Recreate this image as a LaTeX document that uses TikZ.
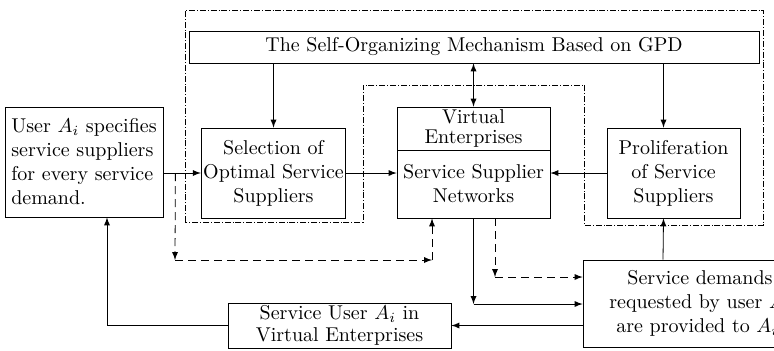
\documentclass[tikz,border=0pt]{standalone}
\usepackage{amssymb}
\usepackage{amsmath}
\usepackage{tikz}

\begin{document}
\begin{tikzpicture}[x=0.5pt, y=-0.5pt,
    block/.style={draw, rectangle, align=center, inner sep=1pt},
    flow/.style={-latex},
    dashflow/.style={-latex, dashed, dash pattern=on 4pt off 2.5pt},
    region/.style={densely dashdotted}]

        \useasboundingbox (0,0) rectangle (774,350);
        \clip (0,0) rectangle (774,350);

        % Blocks.
        \node[block, align=left, minimum width=79pt, minimum height=55pt]
        (user) at (84,162) {User $A_i$ specifies\\service suppliers\\for every service\\demand.};
        \node[block, minimum width=285pt, minimum height=16pt]
        (mech) at (474,47) {The Self-Organizing Mechanism Based on GPD};
        \node[block, minimum width=71.5pt, minimum height=45pt]
        (sel) at (273.5,173) {Selection of\\Optimal Service\\Suppliers};
        \node[block, minimum width=76.5pt, minimum height=21.5pt]
        (vtop) at (473.5,128.5) {Virtual\\[-2pt]Enterprises};
        \node[block, minimum width=76.5pt, minimum height=34pt]
        (vnet) at (473.5,184) {Service Supplier\\Networks};
        \node[block, minimum width=66.5pt, minimum height=45pt]
        (prol) at (673.5,173) {Proliferation\\of Service\\Suppliers};
        \node[block, minimum width=117pt, minimum height=43.5pt]
        (dem) at (700,303.5) {Service demands\\requested by user $A_i$\\are provided to $A_i$.};
        \node[block, minimum width=111.5pt, minimum height=22.5pt]
        (serv) at (339.5,325.5) {Service User $A_i$ in\\[-1pt]Virtual Enterprises};

        % Self-organizing region.
        \draw[region] (185,222) -- (185,10) -- (763,10) -- (763,225)
        -- (584,225) -- (584,85) -- (363,85) -- (363,222) -- cycle;

        % Mechanism links.
        \draw[flow] (mech.south -| sel.north) -- (sel.north);
        \draw[latex-latex] (mech.south -| vtop.north) -- (vtop.north);
        \draw[flow] ([xshift=-5pt]mech.south -| prol.north) -- ([xshift=-5pt]prol.north);

        % Main flow.
        \draw[flow] (user.east |- sel.west) -- (sel.west);
        \draw[flow] (sel.east) -- (vnet.west |- sel.east);
        \draw[flow] (prol.west) -- (vnet.east |- prol.west);

        % Dashed feedback from the user.
        \coordinate (split) at ([xshift=6pt]user.east |- sel.west);
        \coordinate (down1) at (175,260);
        \coordinate (up1) at (432,260);
        \draw[dashflow] (split) -- (down1);
        \draw[dashflow] (down1) -- (up1);
        \draw[dashflow] (up1) -- (up1 |- vnet.south);

        % Networks to demands.
        \coordinate (down2) at (495,277);
        \draw[dashflow] (down2 |- vnet.south) -- (down2);
        \draw[dashflow] (down2) -- (dem.west |- down2);
        \coordinate (down3) at (473.5,304);
        \draw[flow] (vnet.south) -- (down3);
        \draw[flow] (down3) -- (dem.west |- down3);

        % Demands back to proliferation and user.
        \draw[flow] ([xshift=-18.5pt]dem.north) -- ([xshift=-5pt]prol.south);
        \draw[flow] (dem.west |- serv.east) -- (serv.east);
        \draw[flow] (serv.west) -| ([xshift=11.5pt]user.south);
      \end{tikzpicture}
\end{document}
